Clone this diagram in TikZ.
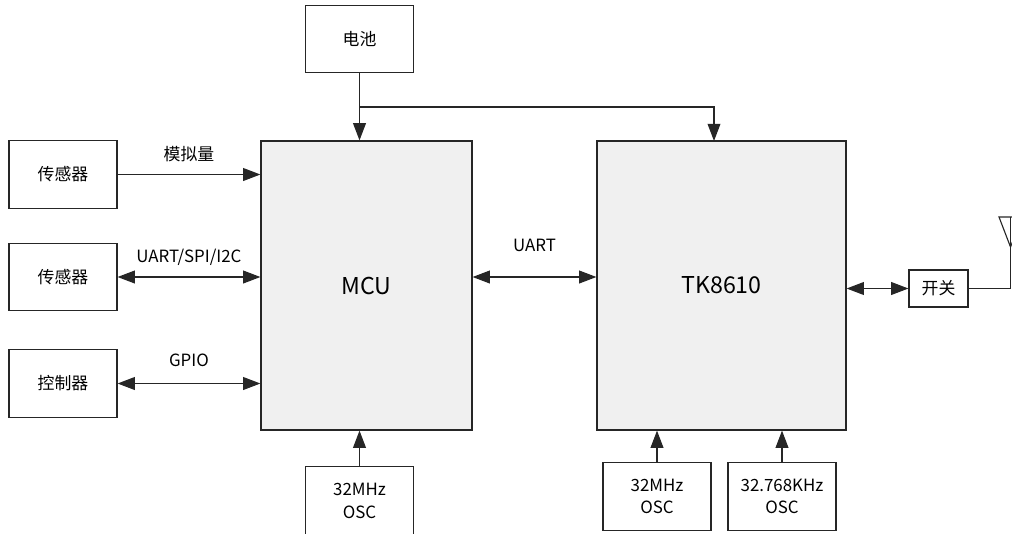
\documentclass[tikz,border=0pt]{standalone}
\usepackage{fontspec}
\setmainfont{Noto Sans CJK SC}
\usepackage{tikz}
\usetikzlibrary{positioning,arrows.meta}

\begin{document}
\begin{tikzpicture}[
  x=0.025cm, y=-0.025cm,
  font=\fontsize{12}{16}\selectfont,
  every node/.style={align=center},
  blk/.style   ={rectangle, draw=black!85, line width=0.8pt, fill=white,
                 inner sep=0pt, minimum width=27mm, minimum height=16.8mm},
  chip/.style  ={blk, fill=black!6, minimum height=72.25mm,
                 font=\fontsize{16.5}{18}\selectfont},
  sw/.style    ={blk, minimum width=14.75mm, minimum height=9.25mm},
  tip/.tip     ={Triangle[length=4.3mm,width=3.2mm]},
  arrow/.style ={-tip, line width=0.8pt, draw=black!85},
  both/.style  ={tip-tip, line width=0.8pt, draw=black!85},
  wire/.style  ={line width=0.8pt, draw=black!85},
  lbl/.style   ={midway, inner sep=0pt},
]
\useasboundingbox (0,0) rectangle (1012,533);
\clip (0,0) rectangle (1012,533);

% Power
\node[blk]  (bat) at (359.5, 39) {电池};

% Main chips
\node[chip, minimum width=52.75mm] (mcu) at (366.5, 285.5) {MCU};
\node[chip, minimum width=62.25mm] (tk)  at (721.5, 285.5) {TK8610};

% Peripherals on the left
\node[blk] (sens1) at (63, 174.5) {传感器};
\node[blk] (sens2) at (63, 277)   {传感器};
\node[blk] (ctrl)  at (63, 383.5) {控制器};

% Oscillators
\node[blk, minimum height=17.2mm] (oscm) at (359.5, 501) {32MHz\\OSC};
\node[blk] (osct) at (657, 496.5) {32MHz\\OSC};
\node[blk] (oscs) at (782, 496.5) {32.768KHz\\OSC};

% RF switch
\node[sw] (switch) at (938.5, 288.5) {开关};

% Power distribution
\coordinate (split) at (359.5, 107);
\coordinate (tkin)  at (714, 141);
\draw[arrow] (bat.south) -- (mcu.north -| bat.south);
\draw[arrow] (split) -| (tkin);

% Peripheral links
\draw[arrow] (sens1.east) -- (sens1.east -| mcu.west)
   node[lbl, yshift=5mm] {模拟量};
\draw[both] (sens2.east) -- (sens2.east -| mcu.west)
   node[lbl, yshift=5mm] {UART/SPI/I2C};
\draw[both] (ctrl.east) -- (ctrl.east -| mcu.west)
   node[lbl, yshift=5.8mm] {GPIO};

% MCU <-> TK8610
\draw[both] (mcu.east |- sens2.east) -- (tk.west |- sens2.east)
   node[lbl, yshift=8mm] {UART};

% Clocks
\draw[arrow] (oscm.north) -- (oscm.north |- mcu.south);
\draw[arrow] (osct.north) -- (osct.north |- tk.south);
\draw[arrow] (oscs.north) -- (oscs.north |- tk.south);

% RF path and antenna
\draw[both] (tk.east |- switch.west) -- (switch.west);
\coordinate (ant) at (1010.5, 217);
\draw[wire] (switch.east) -| (ant);
\draw[wire] (999, 217) -- (1022, 217) -- (1010.5, 247) -- cycle;

\end{tikzpicture}
\end{document}
